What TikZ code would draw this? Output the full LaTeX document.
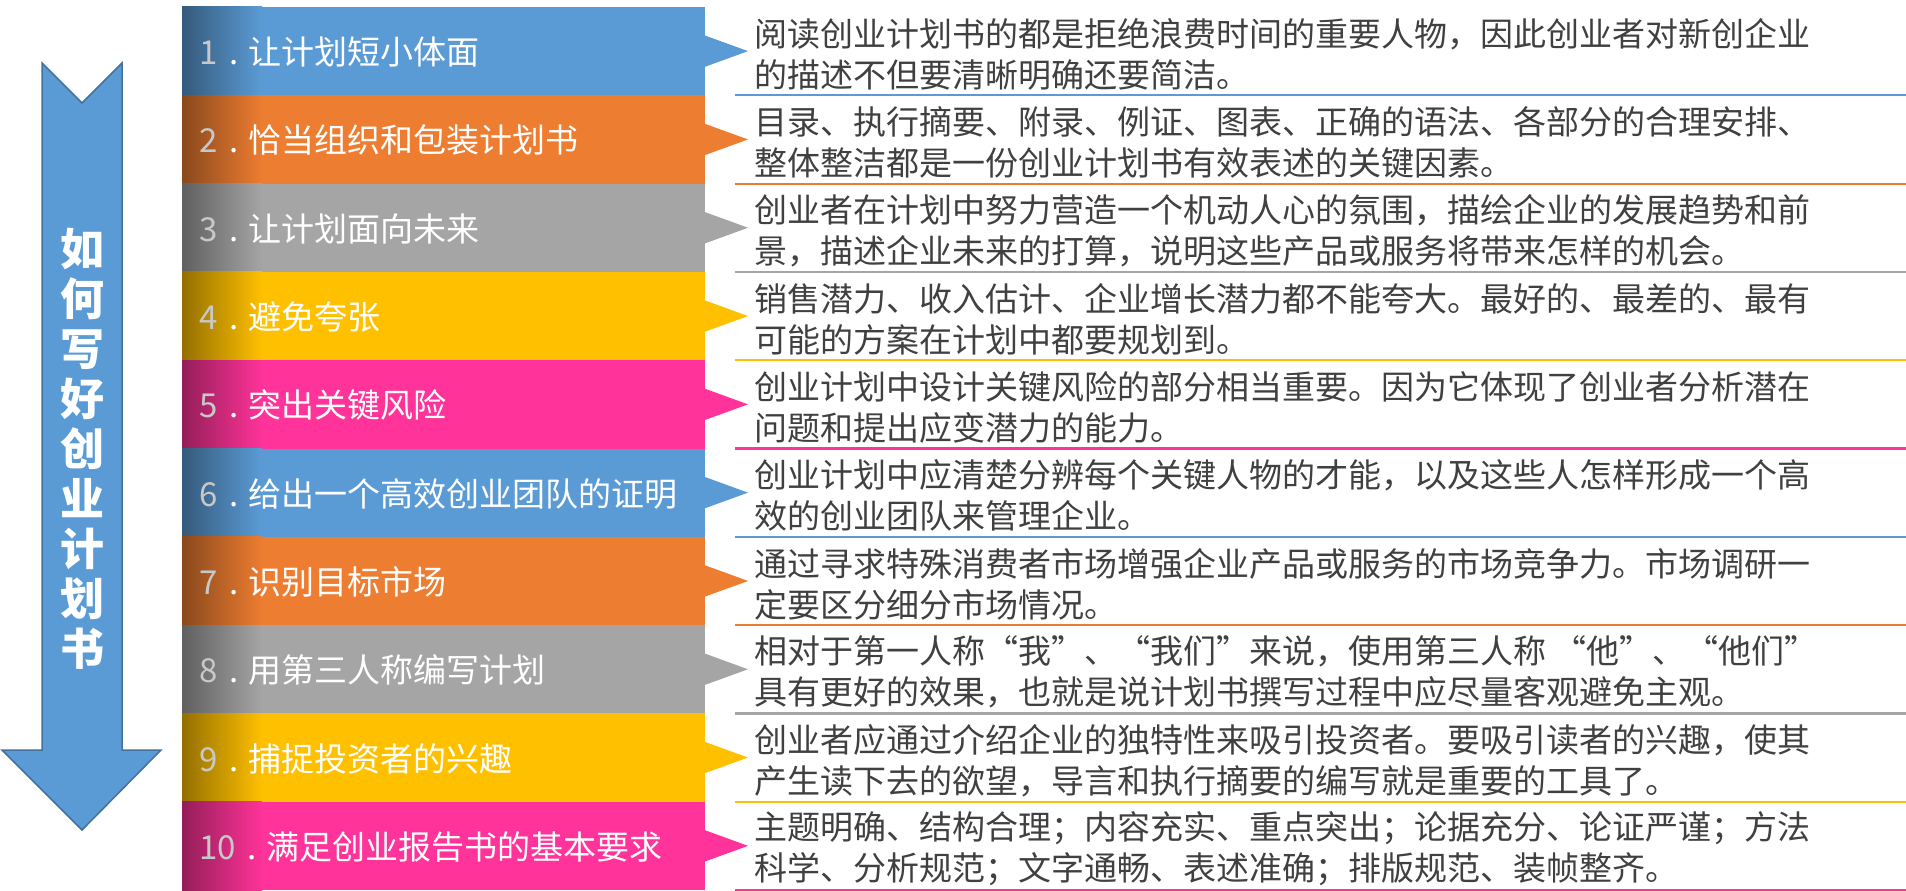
\documentclass[tikz,border=0pt]{standalone}
\usepackage{fontspec}
\setmainfont{Noto Sans CJK SC}
\newcommand\fq[1]{{\addfontfeature{RawFeature=+fwid}#1}}
\definecolor{cblue}{HTML}{5B9BD5}
\definecolor{corange}{HTML}{ED7D31}
\definecolor{cgray}{HTML}{A5A5A5}
\definecolor{cyellow}{HTML}{FFC000}
\definecolor{cpink}{HTML}{FF3399}
\definecolor{arrowedge}{HTML}{41719C}
\definecolor{desctext}{HTML}{404040}
\definecolor{numgray}{HTML}{C8C8C8}
\tikzset{
  bigarrow/.style={fill=cblue, draw=arrowedge, line width=1.5pt, line join=miter},
  titletext/.style={text=white, align=center, inner sep=0pt, font=\fontsize{44}{50}\selectfont\bfseries},
  bandtext/.style={text=white, anchor=west, inner sep=0pt, font=\fontsize{33}{38}\selectfont},
  desc/.style={text=desctext, anchor=west, align=left, inner sep=0pt, font=\fontsize{33}{41}\selectfont},
  sepline/.style={line width=2.2pt}
}
\begin{document}
\begin{tikzpicture}[x=1pt,y=-1pt]
\useasboundingbox (0,0) rectangle (1906,891);
% big arrow
\draw[bigarrow] (42,63) -- (82,103) -- (122,63) -- (122,750) -- (161,750) -- (82,830) -- (2,750) -- (42,750) -- cycle;
\node[titletext] (title) at (82,449) {如\\何\\写\\好\\创\\业\\计\\划\\书};
\foreach \i/\col/\ttl/\la/\lb in {
 1/cblue/{让计划短小体面}/{阅读创业计划书的都是拒绝浪费时间的重要人物，因此创业者对新创企业}/{的描述不但要清晰明确还要简洁。},
 2/corange/{恰当组织和包装计划书}/{目录、执行摘要、附录、例证、图表、正确的语法、各部分的合理安排、}/{整体整洁都是一份创业计划书有效表述的关键因素。},
 3/cgray/{让计划面向未来}/{创业者在计划中努力营造一个机动人心的氛围，描绘企业的发展趋势和前}/{景，描述企业未来的打算，说明这些产品或服务将带来怎样的机会。},
 4/cyellow/{避免夸张}/{销售潜力、收入估计、企业增长潜力都不能夸大。最好的、最差的、最有}/{可能的方案在计划中都要规划到。},
 5/cpink/{突出关键风险}/{创业计划中设计关键风险的部分相当重要。因为它体现了创业者分析潜在}/{问题和提出应变潜力的能力。},
 6/cblue/{给出一个高效创业团队的证明}/{创业计划中应清楚分辨每个关键人物的才能，以及这些人怎样形成一个高}/{效的创业团队来管理企业。},
 7/corange/{识别目标市场}/{通过寻求特殊消费者市场增强企业产品或服务的市场竞争力。市场调研一}/{定要区分细分市场情况。},
 8/cgray/{用第三人称编写计划}/{相对于第一人称\fq{“}我\fq{”}、\fq{“}我们\fq{”}来说，使用第三人称 \fq{“}他\fq{”}、\fq{“}他们\fq{”}}/{具有更好的效果，也就是说计划书撰写过程中应尽量客观避免主观。},
 9/cyellow/{捕捉投资者的兴趣}/{创业者应通过介绍企业的独特性来吸引投资者。要吸引读者的兴趣，使其}/{产生读下去的欲望，导言和执行摘要的编写就是重要的工具了。},
 10/cpink/{满足创业报告书的基本要求}/{主题明确、结构合理；内容充实、重点突出；论据充分、论证严谨；方法}/{科学、分析规范；文字通畅、表述准确；排版规范、装帧整齐。}}
{
  \pgfmathsetmacro\ytop{7+(\i-1)*88.3}
  \pgfmathsetmacro\ybot{\ytop+88.3}
  \pgfmathsetmacro\ymid{\ytop+44.15}
  \fill[\col] (182,\ytop) rectangle (704.5,\ybot);
  \shade[left color=\col!58!black, right color=\col] (182,\ytop) rectangle (262,\ybot);
  \fill[\col] (704,\ymid-16) -- (748,\ymid) -- (704,\ymid+16) -- cycle;
  \node[bandtext] (band\i) at (199,\ymid+1) {{\color{numgray}\i}\hspace{0.35em}.\hspace{0.3em}\ttl};
  \node[desc] (desc\i) at (754,\ymid+3) {\la\\\lb};
  \coordinate (sepL\i) at (735,\ybot);
  \coordinate (sepR\i) at (1906,\ybot);
  \draw[sepline, \col] (sepL\i) -- (sepR\i);
}
\end{tikzpicture}
\end{document}
